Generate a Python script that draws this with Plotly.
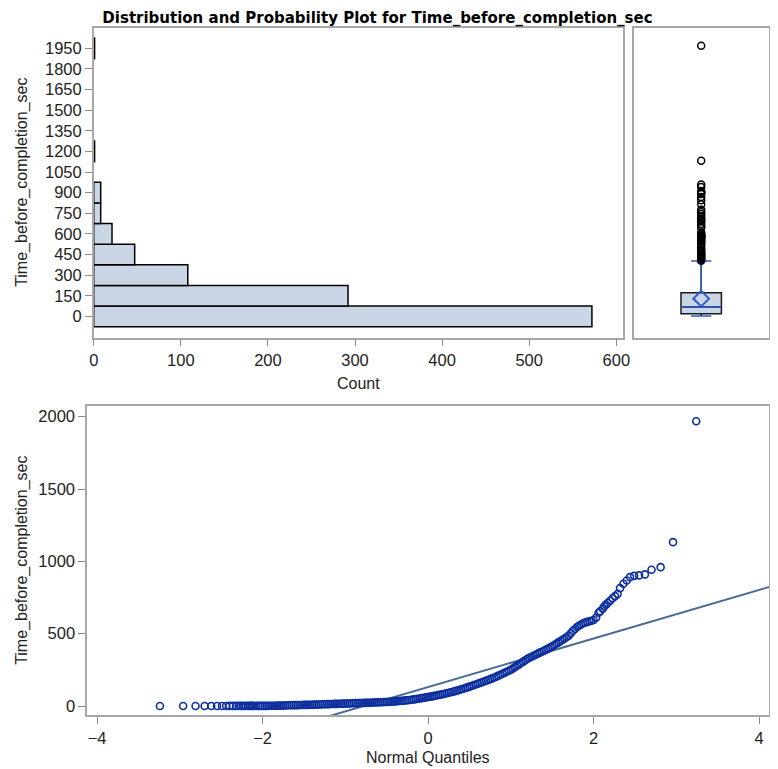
import plotly.graph_objects as go

# histogram: bin midpoints (sec) and counts
bin_mids = [0, 150, 300, 450, 600, 750, 900, 1050, 1200, 1350, 1500, 1650, 1800, 1950]
bin_counts = [572, 292, 108, 47, 21, 8, 8, 0, 1, 0, 0, 0, 0, 1]
bin_width = 150

# box plot summary
box_q1 = 20
box_median = 68
box_q3 = 172
box_mean = 129
whisker_low = 2
whisker_high = 403

# normal quantile plot points: normal quantile and observed value
qq_quantiles = [
    -3.24, -2.96, -2.81, -2.70, -2.62, -2.55, -2.49, -2.44, -2.40, -2.36,
    -2.32, -2.29, -2.26, -2.23, -2.20, -2.17, -2.15, -2.13, -2.11, -2.08,
    -2.050, -2.025, -2.000, -1.975, -1.950, -1.925, -1.900, -1.875, -1.850, -1.825,
    -1.800, -1.775, -1.750, -1.725, -1.700, -1.675, -1.650, -1.625, -1.600, -1.575,
    -1.550, -1.525, -1.500, -1.475, -1.450, -1.425, -1.400, -1.375, -1.350, -1.325,
    -1.300, -1.275, -1.250, -1.225, -1.200, -1.175, -1.150, -1.125, -1.100, -1.075,
    -1.050, -1.025, -1.000, -0.975, -0.950, -0.925, -0.900, -0.875, -0.850, -0.825,
    -0.800, -0.775, -0.750, -0.725, -0.700, -0.675, -0.650, -0.625, -0.600, -0.575,
    -0.550, -0.525, -0.500, -0.475, -0.450, -0.425, -0.400, -0.375, -0.350, -0.325,
    -0.300, -0.275, -0.250, -0.225, -0.200, -0.175, -0.150, -0.125, -0.100, -0.075,
    -0.050, -0.025, 0.000, 0.025, 0.050, 0.075, 0.100, 0.125, 0.150, 0.175,
    0.200, 0.225, 0.250, 0.275, 0.300, 0.325, 0.350, 0.375, 0.400, 0.425,
    0.450, 0.475, 0.500, 0.525, 0.550, 0.575, 0.600, 0.625, 0.650, 0.675,
    0.700, 0.725, 0.750, 0.775, 0.800, 0.825, 0.850, 0.875, 0.900, 0.925,
    0.950, 0.975, 1.000, 1.025, 1.050, 1.075, 1.100, 1.125, 1.150, 1.175,
    1.200, 1.225, 1.250, 1.275, 1.300, 1.325, 1.350, 1.375, 1.400, 1.425,
    1.450, 1.475, 1.500, 1.525, 1.550, 1.575, 1.600, 1.625, 1.650, 1.675,
    1.700, 1.725, 1.750, 1.775, 1.800, 1.825, 1.850, 1.875, 1.900, 1.925,
    1.950, 1.975, 2.000, 2.03, 2.06, 2.08, 2.11, 2.13, 2.15, 2.17,
    2.20, 2.23, 2.26, 2.29, 2.32, 2.36, 2.40, 2.44, 2.49, 2.55,
    2.62, 2.70, 2.81, 2.96, 3.24,
]
qq_values = [
    0, 0, 0, 0, 0, 0, 0, 0, 1, 1,
    1, 1, 1, 1, 1, 1, 1, 1, 1, 1,
    1, 1, 1, 1, 1, 2, 2, 2, 2, 3,
    3, 3, 4, 4, 5, 5, 5, 6, 6, 6,
    7, 7, 8, 8, 8, 9, 9, 10, 10, 11,
    11, 12, 12, 13, 13, 14, 14, 15, 15, 16,
    16, 17, 17, 18, 18, 19, 19, 20, 20, 21,
    21, 22, 22, 23, 23, 24, 24, 25, 26, 26,
    27, 28, 28, 29, 30, 31, 32, 34, 35, 36,
    37, 39, 40, 42, 44, 46, 48, 50, 52, 55,
    57, 60, 62, 65, 67, 70, 73, 76, 79, 82,
    85, 88, 92, 95, 99, 103, 107, 111, 116, 120,
    125, 129, 134, 139, 144, 149, 154, 159, 164, 170,
    175, 180, 186, 191, 197, 203, 210, 216, 223, 230,
    237, 244, 251, 260, 269, 278, 287, 297, 307, 317,
    327, 334, 341, 348, 355, 362, 369, 375, 382, 390,
    397, 405, 413, 422, 431, 440, 449, 458, 467, 477,
    487, 503, 520, 533, 546, 555, 564, 572, 578, 582,
    586, 590, 595, 610, 645, 655, 672, 690, 700, 712,
    728, 745, 760, 775, 815, 845, 868, 891, 900, 903,
    910, 942, 960, 1133, 1968,
]

# fitted normal reference line
ref_mu = 131
ref_sigma = 168
ref_q = [-4.3, 4.3]

outliers = [v for v in qq_values if v > whisker_high]

BAR_FILL = '#CAD5E5'
FRAME = '#A8A8A8'
TICK = '#8C8C8C'
MARKER = '#0D2F9E'
REFLINE = '#4A6B96'
BOXBLUE = '#2A58CC'
TXT = '#222222'
FONT = 'Liberation Sans, Arial, sans-serif'

# page body adds an 8px margin, so the figure is a bit smaller than the window
OFF = 8
W, H = 778 - OFF, 769 - OFF


def px(x):
    return (x - OFF) / W


def py(y):
    return 1 - (y - OFF) / H


fig = go.Figure()

# histogram (horizontal)
hist_y = [m for m, c in zip(bin_mids, bin_counts) if c > 0]
hist_x = [c for c in bin_counts if c > 0]
fig.add_trace(go.Bar(x=hist_x, y=hist_y, orientation='h', width=bin_width,
                     marker=dict(color=BAR_FILL, line=dict(color='black', width=1.5)),
                     xaxis='x', yaxis='y', hoverinfo='x+y'))

# box plot
fig.add_trace(go.Box(x=[0], q1=[box_q1], median=[box_median], q3=[box_q3],
                     lowerfence=[whisker_low], upperfence=[whisker_high],
                     width=0.6, fillcolor=BAR_FILL, line=dict(color='#1a1a1a', width=1.5),
                     whiskerwidth=0, boxpoints=False, xaxis='x2', yaxis='y2'))
# blue whiskers, caps and median
cap = 0.15
fig.add_trace(go.Scatter(x=[0, 0, None, -cap, cap, None, -0.3, 0.3, None, -cap, cap],
                         y=[box_q3, whisker_high, None, whisker_high, whisker_high, None,
                            box_median, box_median, None, whisker_low, whisker_low],
                         mode='lines', line=dict(color=BOXBLUE, width=1.5),
                         xaxis='x2', yaxis='y2', hoverinfo='skip'))
fig.add_trace(go.Scatter(x=[0], y=[box_mean], mode='markers',
                         marker=dict(symbol='diamond-open', size=12, color=BOXBLUE,
                                     line=dict(width=2, color=BOXBLUE)),
                         xaxis='x2', yaxis='y2'))
fig.add_trace(go.Scatter(x=[0] * len(outliers), y=outliers, mode='markers',
                         marker=dict(symbol='circle-open', size=7, color='black',
                                     line=dict(width=1.5, color='black')),
                         xaxis='x2', yaxis='y2'))

# normal quantile plot
fig.add_trace(go.Scatter(x=ref_q, y=[ref_mu + ref_sigma * q for q in ref_q], mode='lines',
                         line=dict(color=REFLINE, width=2), xaxis='x3', yaxis='y3',
                         hoverinfo='skip'))
fig.add_trace(go.Scatter(x=qq_quantiles, y=qq_values, mode='markers',
                         marker=dict(symbol='circle-open', size=7, color=MARKER,
                                     line=dict(width=1.6, color=MARKER)),
                         xaxis='x3', yaxis='y3'))

axis_common = dict(showline=True, linecolor=FRAME, linewidth=1.5, mirror=True,
                   showgrid=False, zeroline=False, ticks='outside', tickcolor=TICK,
                   ticklen=7, tickwidth=1, tickfont=dict(family=FONT, size=16.5, color=TXT))

ttl_font = dict(family=FONT, size=16, color=TXT)

fig.update_layout(
    width=W, height=H,
    margin=dict(l=0, r=0, t=0, b=0),
    paper_bgcolor='white', plot_bgcolor='white',
    showlegend=False,
    font=dict(family=FONT, color=TXT),
    title=dict(text='<b>Distribution and Probability Plot for Time_before_completion_sec</b>',
               x=px(377.5), xanchor='center', y=py(12), yanchor='top',
               font=dict(family='DejaVu Sans, Verdana, sans-serif', size=15, color='black')),
    xaxis=dict(axis_common, domain=[px(90), px(627.5)], range=[0, 607.5],
               tickvals=[0, 100, 200, 300, 400, 500, 600], anchor='y'),
    yaxis=dict(axis_common, domain=[py(337.7), py(27.7)], range=[-155, 2100],
               tickvals=bin_mids, anchor='x'),
    xaxis2=dict(axis_common, domain=[px(638.7), px(775.5)], range=[-1, 1],
                showticklabels=False, ticks='', anchor='y2'),
    yaxis2=dict(axis_common, domain=[py(337.7), py(27.7)], range=[-155, 2100],
                showticklabels=False, ticks='', anchor='x2'),
    xaxis3=dict(axis_common, domain=[px(83.3), px(776)], range=[-4.12, 4.12],
                tickvals=[-4, -2, 0, 2, 4], anchor='y3'),
    yaxis3=dict(axis_common, domain=[py(715.3), py(405.7)], range=[-64, 2076],
                tickvals=[0, 500, 1000, 1500, 2000], anchor='x3'),
    annotations=[
        dict(text='Count', x=px(358.5), y=py(383), xref='paper', yref='paper',
             xanchor='center', yanchor='middle', showarrow=False, font=ttl_font),
        dict(text='Time_before_completion_sec', x=px(17), y=py(182), xref='paper',
             yref='paper', xanchor='center', yanchor='middle', textangle=-90,
             showarrow=False, font=ttl_font),
        dict(text='Time_before_completion_sec', x=px(17), y=py(560), xref='paper',
             yref='paper', xanchor='center', yanchor='middle', textangle=-90,
             showarrow=False, font=ttl_font),
        dict(text='Normal Quantiles', x=px(429.5), y=py(757), xref='paper',
             yref='paper', xanchor='center', yanchor='middle', showarrow=False,
             font=ttl_font),
    ],
)

fig.write_html("out.html")
